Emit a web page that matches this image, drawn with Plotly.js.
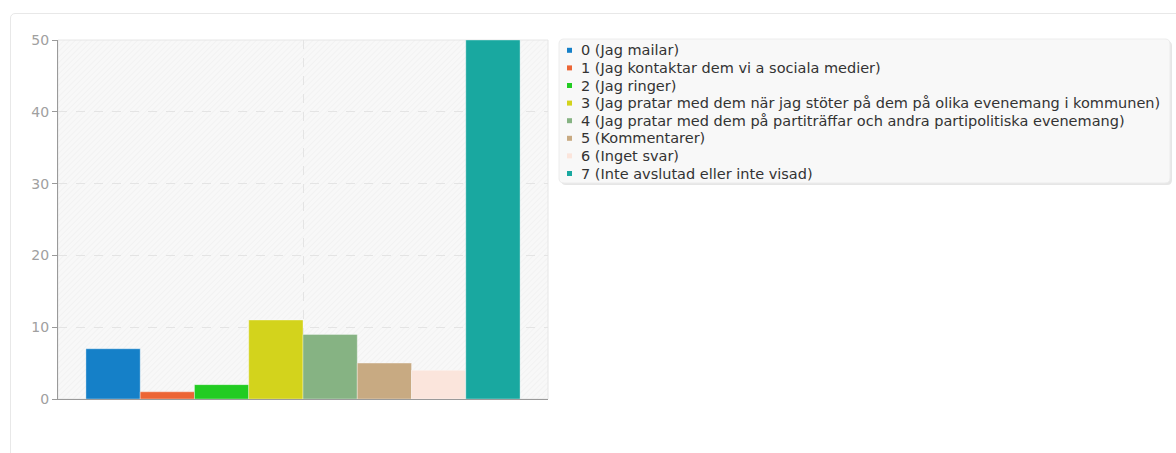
<!DOCTYPE html>
<html>
<head>
<meta charset="utf-8">
<script src="https://cdn.plot.ly/plotly-3.0.1.min.js"></script>
<style>
  html, body { margin: 0; padding: 0; background: #ffffff; overflow: hidden; }
  #card { position: absolute; left: 10px; top: 13px; width: 1200px; height: 480px;
          border: 1px solid #e8e8e8; border-radius: 5px; background: #fff; }
  #chart { position: absolute; left: 0; top: 0; width: 1176px; height: 453px; }
</style>
</head>
<body>
<div id="card"></div>
<div id="chart"></div>
<script>
// ---- data ----
const category = ['Svar'];
const seriesNames = [
  '0 (Jag mailar)',
  '1 (Jag kontaktar dem vi a sociala medier)',
  '2 (Jag ringer)',
  '3 (Jag pratar med dem när jag stöter på dem på olika evenemang i kommunen)',
  '4 (Jag pratar med dem på partiträffar och andra partipolitiska evenemang)',
  '5 (Kommentarer)',
  '6 (Inget svar)',
  '7 (Inte avslutad eller inte visad)'
];
const seriesValues = [7, 1, 2, 11, 9, 5, 4, 50];
const seriesColors = ['#1580c8', '#ec6535', '#22cc22', '#d3d31c', '#86b383', '#c8aa82', '#fbe5dc', '#19a8a0'];
const yTicks = [0, 10, 20, 30, 40, 50];

// ---- geometry ----
const W = 1176, H = 453;
const mL = 58, mR = W - 548, mT = 40, mB = H - 399;
const pw = W - mL - mR, ph = H - mT - mB;
const px = v => (v - mL) / pw;
const py = v => (H - mB - v) / ph;

const traces = seriesNames.map((name, i) => ({
  type: 'bar', x: category, y: [seriesValues[i]], name: name,
  marker: { color: seriesColors[i], line: { color: 'rgba(255,255,255,0.35)', width: 1 } },
  hoverinfo: 'name+y'
}));

function roundRect(x0, y0, x1, y1, r) {
  const rx = r / pw, ry = r / ph;
  const a = px(x0), b = px(x1), top = py(y0), bot = py(y1);
  return `M${a + rx},${top} L${b - rx},${top} Q${b},${top} ${b},${top - ry} ` +
         `L${b},${bot + ry} Q${b},${bot} ${b - rx},${bot} L${a + rx},${bot} ` +
         `Q${a},${bot} ${a},${bot + ry} L${a},${top - ry} Q${a},${top} ${a + rx},${top} Z`;
}

// subtle diagonal hatch for the plot background
const hatchSvg = `<svg xmlns="http://www.w3.org/2000/svg" width="${pw}" height="${ph}">` +
  `<defs><pattern id="p" width="4" height="4" patternUnits="userSpaceOnUse" patternTransform="rotate(45)">` +
  `<rect width="4" height="4" fill="#f8f8f8"/><line x1="0" y1="0" x2="0" y2="4" stroke="#f0f0f0" stroke-width="1.5"/>` +
  `</pattern></defs><rect width="100%" height="100%" fill="url(#p)"/></svg>`;
const hatchUri = 'data:image/svg+xml;charset=utf-8,' + encodeURIComponent(hatchSvg);

// legend (drawn as shapes + annotations to match the compact row spacing)
const legTop = 50.3, legStep = 17.6;
const legendShapes = [], legendAnn = [];
seriesNames.forEach((name, i) => {
  const cy = legTop + i * legStep;
  legendShapes.push({
    type: 'rect', xref: 'paper', yref: 'paper',
    x0: px(567), x1: px(572), y0: py(cy + 2.5), y1: py(cy - 2.5),
    fillcolor: seriesColors[i], line: { width: 0 }
  });
  legendAnn.push({
    xref: 'paper', yref: 'paper', x: px(580), y: py(cy),
    xanchor: 'left', yanchor: 'middle', showarrow: false,
    text: name, borderpad: 0,
    font: { family: 'DejaVu Sans, sans-serif', size: 14.5, color: '#333' }
  });
});

const layout = {
  width: W, height: H,
  margin: { l: mL, r: mR, t: mT, b: mB, pad: 0 },
  paper_bgcolor: 'rgba(0,0,0,0)',
  plot_bgcolor: '#f8f8f8',
  font: { family: 'DejaVu Sans, sans-serif', size: 12, color: '#333' },
  barmode: 'group', bargap: 0.114, bargroupgap: 0,
  showlegend: false,
  xaxis: {
    type: 'category', showticklabels: false, ticks: '',
    showgrid: true, gridcolor: '#e4e4e4', griddash: 'dash', gridwidth: 1,
    showline: true, linecolor: '#9a9a9a', linewidth: 1,
    zeroline: false, fixedrange: true
  },
  yaxis: {
    range: [0, 50], tickvals: yTicks, ticktext: yTicks.map(String),
    ticks: 'outside', ticklen: 5, tickcolor: '#9a9a9a', tickwidth: 1,
    tickfont: { family: 'DejaVu Sans, sans-serif', size: 14, color: '#a0a0a0' },
    showgrid: true, gridcolor: '#e4e4e4', griddash: 'dash', gridwidth: 1,
    showline: true, linecolor: '#9a9a9a', linewidth: 1,
    zeroline: false, fixedrange: true
  },
  images: [{
    source: hatchUri, xref: 'paper', yref: 'paper', x: 0, y: 1,
    sizex: 1, sizey: 1, xanchor: 'left', yanchor: 'top',
    sizing: 'stretch', layer: 'below'
  }],
  annotations: legendAnn,
  shapes: [
    { type: 'rect', xref: 'paper', yref: 'paper', x0: 0, x1: 1, y0: 0, y1: 1,
      line: { color: '#e6e6e6', width: 1 }, fillcolor: 'rgba(0,0,0,0)', layer: 'below' },
    { type: 'path', xref: 'paper', yref: 'paper', path: roundRect(561, 41, 1172, 185, 5),
      fillcolor: '#e6e6e6', line: { width: 0 }, layer: 'below' },
    { type: 'path', xref: 'paper', yref: 'paper', path: roundRect(559, 39, 1170, 183, 5),
      fillcolor: '#f8f8f8', line: { color: '#ececec', width: 1 }, layer: 'below' }
  ].concat(legendShapes)
};

Plotly.newPlot('chart', traces, layout, { displayModeBar: false });
</script>
</body>
</html>
